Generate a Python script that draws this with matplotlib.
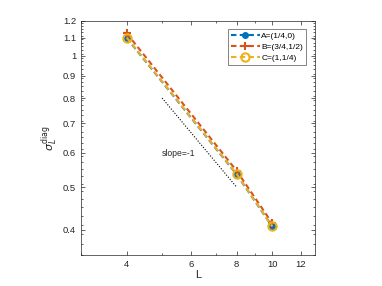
import matplotlib
matplotlib.use('Agg')
import matplotlib.pyplot as plt
from matplotlib.ticker import FixedLocator, FixedFormatter, NullFormatter, LogLocator
import numpy as np

# data
L = [4, 8, 10]
sigma_A = [1.098, 0.535, 0.407]
sigma_B = [1.125, 0.545, 0.414]
sigma_C = [1.100, 0.536, 0.407]
labels = ['A=(1/4,0)', 'B=(3/4,1/2)', 'C=(1,1/4)']

slope_L = [5, 8]
slope_y = [0.8, 0.5]

x_ticks = [4, 6, 8, 10, 12]
y_ticks = [0.4, 0.5, 0.6, 0.7, 0.8, 0.9, 1, 1.1, 1.2]

plt.rcParams['font.family'] = ['Liberation Sans', 'DejaVu Sans']
plt.rcParams['font.size'] = 7

fig = plt.figure(figsize=(3.82, 2.86), dpi=100)
ax = fig.add_axes([81 / 382, 1 - 255 / 286, (315 - 81) / 382, (255 - 21) / 286])

dash = (0, (2.6, 1.6))
ax.plot(L, sigma_A, color='#0072BD', ls=dash, lw=1.5, marker='o', ms=4,
        label=labels[0])
ax.plot(L, sigma_B, color='#D95319', ls=dash, lw=1.5, marker='+', ms=5.5,
        mew=1.5, label=labels[1])
ax.plot(L, sigma_C, color='#EDB120', ls=dash, lw=1.5, marker='o', ms=6,
        mfc='none', mew=1.5, label=labels[2])
ax.plot(slope_L, slope_y, color='k', ls=(0, (1, 1.5)), lw=0.8)
ax.text(5.0, 0.598, 'slope=-1', fontsize=6.2, color='#262626', va='center')

ax.set_xscale('log')
ax.set_yscale('log')
ax.set_xlim(3.0, 13.1)
ax.set_ylim(0.35, 1.2)

ax.xaxis.set_major_locator(FixedLocator(x_ticks))
ax.xaxis.set_major_formatter(FixedFormatter([str(t) for t in x_ticks]))
ax.xaxis.set_minor_locator(LogLocator(base=10, subs=np.arange(1, 10) * 1.0))
ax.xaxis.set_minor_formatter(NullFormatter())
ax.yaxis.set_major_locator(FixedLocator(y_ticks))
ax.yaxis.set_major_formatter(FixedFormatter([f'{t:g}' for t in y_ticks]))
ax.yaxis.set_minor_locator(FixedLocator(np.arange(0.35, 1.21, 0.02)))
ax.yaxis.set_minor_formatter(NullFormatter())

ax.tick_params(which='both', direction='in', top=True, right=True, colors='#262626',
               labelsize=6.8)
ax.tick_params(which='major', length=3, width=0.5)
ax.tick_params(which='minor', length=1.5, width=0.5)
for s in ax.spines.values():
    s.set_linewidth(0.5)
    s.set_color('#262626')

ax.set_xlabel('L', fontsize=8, color='#262626', labelpad=1)
ax.set_ylabel(r'$\sigma_L^{\rm diag}$', fontsize=8, color='#262626', labelpad=2)

leg = ax.legend(loc='upper right', bbox_to_anchor=((306 - 81) / 234, 1 - (29 - 21) / 234),
                fontsize=6, frameon=True, fancybox=False,
                edgecolor='#262626', handlelength=3.4, borderpad=0.35,
                labelspacing=0.4, handletextpad=0.2, borderaxespad=0)
leg.get_frame().set_linewidth(0.5)

fig.savefig('out.png', dpi=100)
